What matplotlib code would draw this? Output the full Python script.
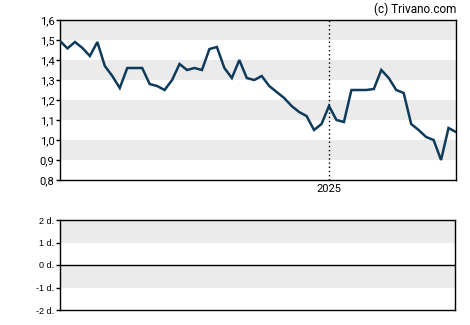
import matplotlib
matplotlib.use("Agg")
import matplotlib.pyplot as plt

values = [1.495, 1.458, 1.49, 1.46, 1.42, 1.49, 1.37, 1.32, 1.26, 1.36, 1.36, 1.36,
          1.28, 1.27, 1.25, 1.30, 1.38, 1.35, 1.36, 1.35, 1.455, 1.465, 1.36, 1.31,
          1.40, 1.31, 1.30, 1.32, 1.27, 1.24, 1.21, 1.17, 1.14, 1.12, 1.05, 1.08,
          1.17, 1.10, 1.09, 1.25, 1.25, 1.25, 1.255, 1.35, 1.31, 1.25, 1.235, 1.08,
          1.05, 1.015, 1.00, 0.90, 1.06, 1.04]
year_tick_index = 36
year_tick_label = "2025"
price_ticks = [0.8, 0.9, 1.0, 1.1, 1.2, 1.3, 1.4, 1.5, 1.6]
price_labels = ["0,8", "0,9", "1,0", "1,1", "1,2", "1,3", "1,4", "1,5", "1,6"]
days_ticks = [-2, -1, 0, 1, 2]
days_labels = ["-2 d.", "-1 d.", "0 d.", "1 d.", "2 d."]

W, H = 470, 325
fig = plt.figure(figsize=(W / 100, H / 100), dpi=100)
plt.rcParams['font.family'] = ['Roboto', 'DejaVu Sans']

def box(x0, y0, x1, y1):
    return [x0 / W, 1 - y1 / H, (x1 - x0) / W, (y1 - y0) / H]

band = "#ebebeb"
ax = fig.add_axes(box(60, 20, 456, 180))
x = list(range(len(values)))
ax.set_xlim(0, len(values) - 1)
ax.set_ylim(0.8, 1.6)
for lo in [0.9, 1.1, 1.3, 1.5]:
    ax.axhspan(lo, lo + 0.1, color=band, lw=0, zorder=0)
ax.axvline(year_tick_index, color="black", lw=1, ls=(0, (1, 2)), zorder=1)
ax.plot(x, values, color="#0f3b5a", lw=1.8, zorder=3, solid_joinstyle="miter")
ax.set_yticks(price_ticks)
ax.set_yticklabels(price_labels)
ax.set_xticks([year_tick_index])
ax.set_xticklabels([year_tick_label])
ax.tick_params(axis="y", length=3, width=1, labelsize=8, pad=1)
ax.tick_params(axis="x", length=0, labelsize=8, pad=3)
for s in ax.spines.values():
    s.set_linewidth(1)

fig.text(456 / W, 1 - 9 / H, "(c) Trivano.com", ha="right", va="center", fontsize=8.5)

ax2 = fig.add_axes(box(60, 220, 455, 310))
ax2.set_xlim(0, 1)
ax2.set_ylim(-2, 2)
ax2.axhspan(1, 2, color=band, lw=0, zorder=0)
ax2.axhspan(-1, 0, color=band, lw=0, zorder=0)
ax2.axhline(0, color="black", lw=1)
ax2.set_yticks(days_ticks)
ax2.set_yticklabels(days_labels, family=["Liberation Sans", "DejaVu Sans"])
ax2.set_xticks([])
ax2.tick_params(axis="y", length=3, width=1, labelsize=6.5, pad=1)
for s in ax2.spines.values():
    s.set_linewidth(1)

fig.savefig("out.png", dpi=100)
